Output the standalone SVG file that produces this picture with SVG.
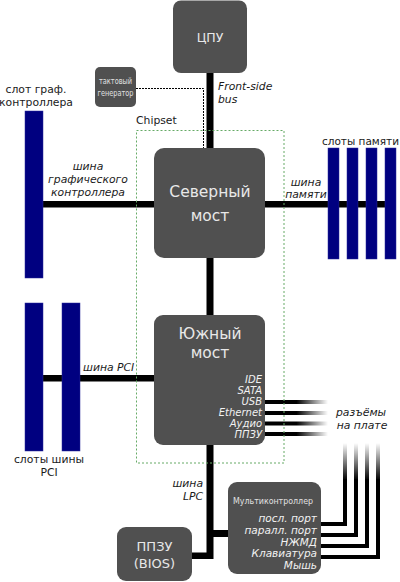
<svg xmlns="http://www.w3.org/2000/svg" width="400" height="582" viewBox="0 0 400 582">
<style>
.box{fill:#505050}
.slot{fill:#000080;stroke:#2a2a9a;stroke-width:0.5}
.bus{fill:#000}
.lbl{font-family:"DejaVu Sans",sans-serif;font-size:10.8px;fill:#1a1a1a}
.it{font-style:italic}
.big{font-family:"DejaVu Sans",sans-serif;fill:#e8e8e8;text-anchor:middle}
.cond{font-family:"DejaVu Sans Condensed","DejaVu Sans",sans-serif;fill:#e0e0e0;text-anchor:middle}
.port{font-family:"DejaVu Sans",sans-serif;font-style:italic;font-size:10px;fill:#f2f2f2;text-anchor:end}
.mid{text-anchor:middle}
</style>
<defs>
<linearGradient id="gh" x1="0" y1="0" x2="1" y2="0">
<stop offset="0" stop-color="#000"/>
<stop offset="0.5" stop-color="#000"/>
<stop offset="1" stop-color="#000" stop-opacity="0"/>
</linearGradient>
<linearGradient id="gv" x1="0" y1="1" x2="0" y2="0">
<stop offset="0" stop-color="#000"/>
<stop offset="1" stop-color="#000" stop-opacity="0"/>
</linearGradient>
</defs>
<rect width="400" height="582" fill="#fff"/>

<g id="connectors">
<rect class="bus" x="206.5" y="72" width="7" height="78"/>
<rect class="bus" x="206.5" y="256" width="7" height="61"/>
<rect class="bus" x="206.5" y="443" width="7" height="116"/>
<rect class="bus" x="213" y="530" width="17" height="7"/>
<rect class="bus" x="190" y="552.5" width="20" height="6.5"/>
<rect class="bus" x="43" y="201" width="113" height="6.5"/>
<rect class="bus" x="263" y="201" width="133" height="6.5"/>
<rect class="bus" x="43" y="375" width="113" height="6.5"/>
<path d="M136 88.5 H203.5 V148" fill="none" stroke="#000" stroke-width="1" stroke-dasharray="2,1"/>
<rect x="265" y="400" width="63" height="4" fill="url(#gh)"/>
<rect x="265" y="411" width="63" height="4" fill="url(#gh)"/>
<rect x="265" y="421.5" width="63" height="4" fill="url(#gh)"/>
<rect x="265" y="432" width="63" height="4" fill="url(#gh)"/>
<g fill="none" stroke="#000" stroke-width="4">
<path d="M345 479 V524 H320"/>
<path d="M356 479 V535 H320"/>
<path d="M367 479 V546 H320"/>
<path d="M378 479 V557 H320"/>
</g>
<rect x="343" y="443" width="4" height="37" fill="url(#gv)"/>
<rect x="354" y="443" width="4" height="37" fill="url(#gv)"/>
<rect x="365" y="443" width="4" height="37" fill="url(#gv)"/>
<rect x="376" y="443" width="4" height="37" fill="url(#gv)"/>
</g>

<g id="chipset">
<rect x="136.5" y="130.5" width="147.5" height="332.5" fill="none" stroke="#66aa66" stroke-width="1" stroke-dasharray="2,2"/>
<text class="lbl" x="136" y="124">Chipset</text>
</g>

<g id="cpu">
<rect class="box" x="173" y="0.5" width="74" height="72.5" rx="8"/>
<text class="big" x="210" y="42" font-size="12.5">ЦПУ</text>
</g>

<g id="clock">
<rect class="box" x="95" y="67" width="41" height="40" rx="5"/>
<text class="cond" x="115.5" y="84" font-size="9.5" textLength="33" lengthAdjust="spacingAndGlyphs">тактовый</text>
<text class="cond" x="115.5" y="96" font-size="9.5" textLength="36" lengthAdjust="spacingAndGlyphs">генератор</text>
</g>
<text class="lbl it" x="218" y="90">Front-side</text>
<text class="lbl it" x="218" y="103">bus</text>

<g id="northbridge">
<rect class="box" x="154" y="148" width="111" height="110" rx="10"/>
<text class="big" x="210" y="197" font-size="15.5">Северный</text>
<text class="big" x="210" y="221" font-size="15.5">мост</text>
</g>

<g id="agp">
<rect class="slot" x="25" y="111" width="18" height="167"/>
<text class="lbl mid" x="36" y="93">слот граф.</text>
<text class="lbl mid" x="36" y="106">контроллера</text>
</g>
<text class="lbl it mid" x="88" y="170">шина</text>
<text class="lbl it mid" x="88" y="183">графического</text>
<text class="lbl it mid" x="88" y="196">контроллера</text>

<g id="memory">
<rect class="slot" x="328" y="148" width="11" height="111"/>
<rect class="slot" x="347" y="148" width="11" height="111"/>
<rect class="slot" x="366" y="148" width="11" height="111"/>
<rect class="slot" x="385" y="148" width="11" height="111"/>
<text class="lbl mid" x="360.5" y="145" style="font-size:10.5px">слоты памяти</text>
</g>
<text class="lbl it mid" x="306" y="186">шина</text>
<text class="lbl it mid" x="306" y="198">памяти</text>

<g id="southbridge">
<rect class="box" x="154" y="315" width="111" height="130" rx="9"/>
<text class="big" x="210" y="339" font-size="15.5">Южный</text>
<text class="big" x="210" y="358" font-size="15.5">мост</text>
<text class="port" x="262" y="383">IDE</text>
<text class="port" x="262" y="394">SATA</text>
<text class="port" x="262" y="405">USB</text>
<text class="port" x="262" y="416">Ethernet</text>
<text class="port" x="262" y="427">Аудио</text>
<text class="port" x="262" y="438">ППЗУ</text>
</g>
<text class="lbl it mid" x="361" y="416">разъёмы</text>
<text class="lbl it mid" x="362" y="429">на плате</text>

<g id="pci">
<rect class="slot" x="25" y="303" width="18" height="148"/>
<rect class="slot" x="62" y="303" width="18" height="148"/>
<text class="lbl mid" x="49" y="463">слоты шины</text>
<text class="lbl mid" x="49" y="476">PCI</text>
</g>
<text class="lbl it" x="83" y="371">шина PCI</text>

<text class="lbl it" x="203" y="487" text-anchor="end">шина</text>
<text class="lbl it" x="203" y="500" text-anchor="end">LPC</text>

<g id="bios">
<rect class="box" x="117" y="527" width="75" height="54" rx="9"/>
<text class="big" x="154.5" y="551" font-size="13">ППЗУ</text>
<text class="big" x="154.5" y="568" font-size="13">(BIOS)</text>
</g>

<g id="multicontroller">
<rect class="box" x="228" y="482" width="93" height="92" rx="9"/>
<text class="cond" x="273" y="504" font-size="8.5" textLength="80" lengthAdjust="spacingAndGlyphs">Мультиконтроллер</text>
<text class="port" x="317" y="522" style="font-size:10.5px">посл. порт</text>
<text class="port" x="317" y="534" style="font-size:10.5px">паралл. порт</text>
<text class="port" x="317" y="545.5" style="font-size:10.5px">НЖМД</text>
<text class="port" x="317" y="557" style="font-size:10.5px">Клавиатура</text>
<text class="port" x="317" y="568.5" style="font-size:10.5px">Мышь</text>
</g>
</svg>
